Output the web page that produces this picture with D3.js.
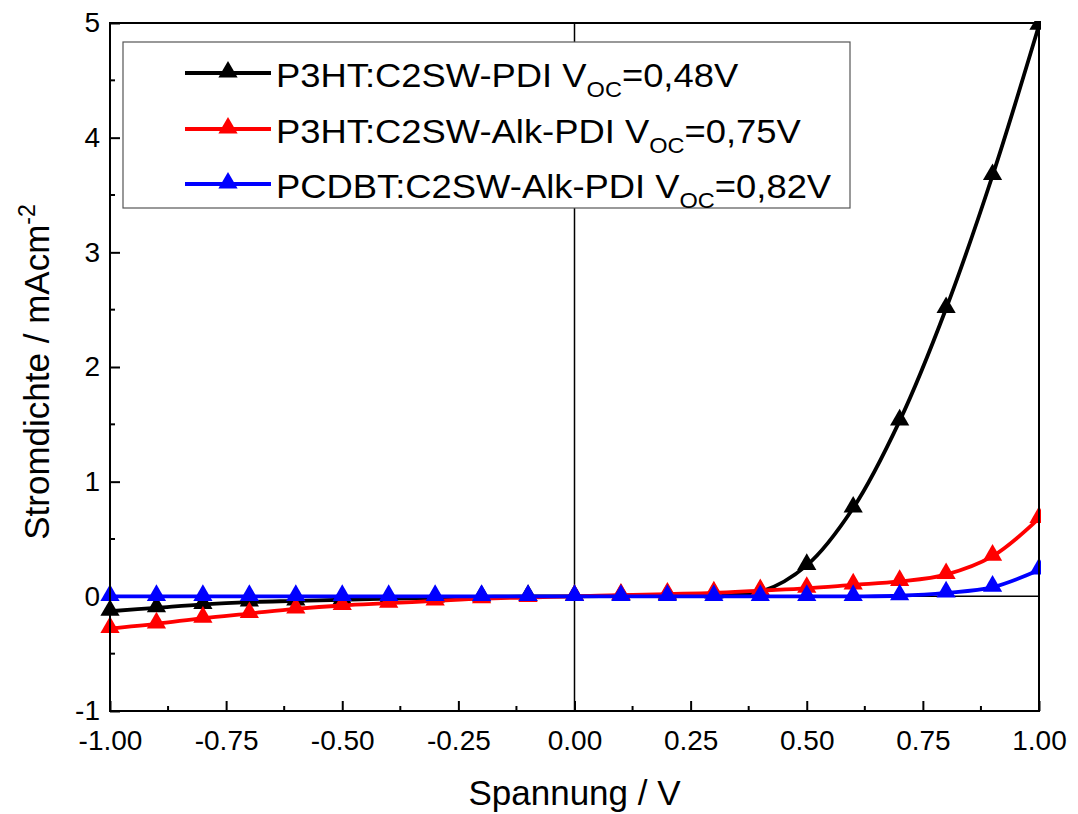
<!DOCTYPE html>
<html>
<head>
<meta charset="utf-8">
<script src="https://cdn.jsdelivr.net/npm/d3@7"></script>
<style>
  html, body { margin: 0; padding: 0; background: #fff; }
  svg { display: block; font-family: "Liberation Sans", Arial, sans-serif; }
</style>
</head>
<body>
<svg id="chart" width="1078" height="814"></svg>
<script>
// Voltage sweep (V), one marker every 0.1 V
const voltage = [-1.0, -0.9, -0.8, -0.7, -0.6, -0.5, -0.4, -0.3, -0.2, -0.1, 0.0,
                 0.1, 0.2, 0.3, 0.4, 0.5, 0.6, 0.7, 0.8, 0.9, 1.0];

// Current density (mA/cm²) per device
const p3htPdi = [-0.13, -0.10, -0.07, -0.05, -0.04, -0.03, -0.02, -0.015, -0.005, 0.0, 0.0,
                 0.005, 0.01, 0.02, 0.04, 0.27, 0.77, 1.53, 2.51, 3.67, 4.98];
const p3htAlkPdi = [-0.28, -0.24, -0.19, -0.15, -0.11, -0.08, -0.06, -0.04, -0.02, -0.01, 0.0,
                    0.01, 0.02, 0.03, 0.05, 0.07, 0.10, 0.13, 0.19, 0.35, 0.68];
const pcdbtAlkPdi = [0.0, 0.0, 0.0, 0.0, 0.0, 0.0, 0.0, 0.0, 0.0, 0.0, 0.0,
                     0.0, 0.0, 0.0, 0.0, 0.0, 0.0, 0.005, 0.03, 0.08, 0.23];

const seriesNames = ["P3HT:C2SW-PDI V", "P3HT:C2SW-Alk-PDI V", "PCDBT:C2SW-Alk-PDI V"];
const seriesVoc = ["=0,48V", "=0,75V", "=0,82V"];
const seriesColors = ["#000000", "#ff0000", "#0000ff"];
const seriesValues = [p3htPdi, p3htAlkPdi, pcdbtAlkPdi];

const xTicks = [-1.0, -0.75, -0.5, -0.25, 0.0, 0.25, 0.5, 0.75, 1.0];
const xMinorTicks = [-0.875, -0.625, -0.375, -0.125, 0.125, 0.375, 0.625, 0.875];
const yTicks = [-1, 0, 1, 2, 3, 4, 5];
const yMinorTicks = [-0.5, 0.5, 1.5, 2.5, 3.5, 4.5];

const svg = d3.select("#chart");
const pLeft = 110, pRight = 1039, pTop = 23, pBottom = 711;

const x = d3.scaleLinear().domain([-1, 1]).range([pLeft, pRight]);
const y = d3.scaleLinear().domain([-1, 5]).range([pBottom, pTop]);

const loc = d3.formatLocale({decimal: ".", thousands: ",", grouping: [3], currency: ["", ""], minus: "-"});
const fmtX = loc.format(".2f");
const fmtY = loc.format("d");

// Zero reference lines
svg.append("line").attr("x1", x(0)).attr("x2", x(0)).attr("y1", pTop).attr("y2", pBottom)
  .attr("stroke", "#000").attr("stroke-width", 1.5);
svg.append("line").attr("x1", pLeft).attr("x2", pRight).attr("y1", y(0)).attr("y2", y(0))
  .attr("stroke", "#000").attr("stroke-width", 1.5);

// Bottom axis: inward ticks
const xAxis = d3.axisBottom(x).tickValues(xTicks).tickFormat(fmtX).tickSizeInner(-10).tickSizeOuter(0).tickPadding(19);
const gx = svg.append("g").attr("transform", `translate(0,${pBottom})`).call(xAxis);
gx.select(".domain").remove();
gx.selectAll(".tick line").attr("stroke-width", 2);
gx.selectAll(".tick text").attr("font-size", 28).attr("fill", "#000");
svg.append("g").selectAll("line").data(xMinorTicks).join("line")
  .attr("x1", d => x(d)).attr("x2", d => x(d)).attr("y1", pBottom).attr("y2", pBottom - 5)
  .attr("stroke", "#000").attr("stroke-width", 2);

// Left axis: inward ticks
const yAxis = d3.axisLeft(y).tickValues(yTicks).tickFormat(fmtY).tickSizeInner(-10).tickSizeOuter(0).tickPadding(10);
const gy = svg.append("g").attr("transform", `translate(${pLeft},0)`).call(yAxis);
gy.select(".domain").remove();
gy.selectAll(".tick line").attr("stroke-width", 2);
gy.selectAll(".tick text").attr("font-size", 28).attr("fill", "#000");
svg.append("g").selectAll("line").data(yMinorTicks).join("line")
  .attr("x1", pLeft).attr("x2", pLeft + 5).attr("y1", d => y(d)).attr("y2", d => y(d))
  .attr("stroke", "#000").attr("stroke-width", 2);

// Curves and triangle markers
const line = d3.line().x(d => x(d[0])).y(d => y(d[1])).curve(d3.curveCatmullRom.alpha(0.5));
const tri = d3.symbol().type(d3.symbolTriangle).size(160);
svg.append("clipPath").attr("id", "plotClip").append("rect")
  .attr("x", pLeft - 12).attr("y", pTop - 2).attr("width", pRight - pLeft + 14).attr("height", pBottom - pTop + 4);

seriesValues.forEach((vals, i) => {
  const pts = voltage.map((v, k) => [v, vals[k]]);
  const g = svg.append("g").attr("clip-path", "url(#plotClip)");
  g.append("path").datum(pts).attr("d", line)
    .attr("fill", "none").attr("stroke", seriesColors[i]).attr("stroke-width", 3.8);
  g.selectAll("path.m").data(pts).join("path").attr("class", "m")
    .attr("transform", d => `translate(${x(d[0])},${y(d[1]) - 1})`)
    .attr("d", tri).attr("fill", seriesColors[i]);
});

// Frame
svg.append("rect").attr("x", pLeft).attr("y", pTop).attr("width", pRight - pLeft).attr("height", pBottom - pTop)
  .attr("fill", "none").attr("stroke", "#000").attr("stroke-width", 2);

// Legend
const lg = svg.append("g");
lg.append("rect").attr("x", 123).attr("y", 42).attr("width", 727).attr("height", 166)
  .attr("fill", "#fff").attr("stroke", "#555").attr("stroke-width", 1.2);
const rowY = [73, 129, 184];
seriesNames.forEach((name, i) => {
  lg.append("line").attr("x1", 185).attr("x2", 271).attr("y1", rowY[i]).attr("y2", rowY[i])
    .attr("stroke", seriesColors[i]).attr("stroke-width", 3.8);
  lg.append("path").attr("d", tri).attr("transform", `translate(228,${rowY[i] - 1})`).attr("fill", seriesColors[i]);
  const t = lg.append("text")
    .attr("transform", `translate(276,${rowY[i] + 14}) scale(1.07,1)`)
    .attr("font-size", 34).attr("fill", "#000");
  t.append("tspan").text(name);
  t.append("tspan").attr("font-size", 22).attr("dy", 10).text("OC");
  t.append("tspan").attr("dy", -10).text(seriesVoc[i]);
});

// Axis titles
svg.append("text").attr("x", (pLeft + pRight) / 2).attr("y", 805).attr("text-anchor", "middle")
  .attr("font-size", 35).attr("fill", "#000").text("Spannung / V");
const yt = svg.append("text").attr("transform", `translate(49,${(pTop + pBottom) / 2 + 5}) rotate(-90)`)
  .attr("text-anchor", "middle").attr("font-size", 35).attr("fill", "#000");
yt.append("tspan").text("Stromdichte / mAcm");
yt.append("tspan").attr("font-size", 23).attr("dy", -14).text("-2");
</script>
</body>
</html>
